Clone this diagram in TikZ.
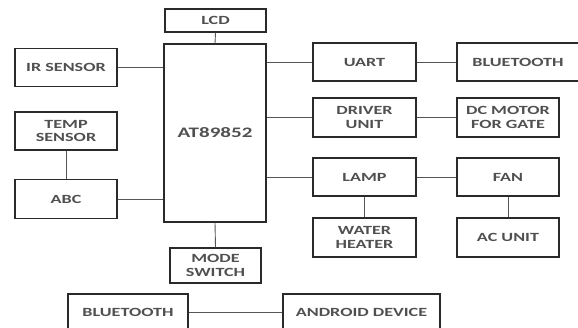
\documentclass[tikz,border=0pt]{standalone}
\usepackage{fontspec}
\setmainfont{Carlito}[FakeStretch=1.45]
\definecolor{txt}{HTML}{505050}
\definecolor{edge}{HTML}{2A2A2A}
\begin{document}
\begin{tikzpicture}[x=1pt,y=-1pt,
  blk/.style={draw=edge, line width=1.4pt, fill=white, inner sep=0pt, align=center,
    text=txt, font=\fontsize{12.5}{13.5}\selectfont\bfseries},
  wire/.style={draw=edge!80, line width=0.9pt}]
\useasboundingbox (0,0) rectangle (578,327);
\clip (0,0) rectangle (578,327);
\node[blk, minimum width=101pt, minimum height=23pt] (lcd) at (215.5,20.5) {LCD};
\node[blk, minimum width=102pt, minimum height=178pt, font=\fontsize{14.5}{16}\selectfont\bfseries] (mcu) at (215,133) {AT89852};
\node[blk, minimum width=102pt, minimum height=38pt] (ir) at (66,67.5) {IR SENSOR};
\node[blk, minimum width=102pt, minimum height=38pt] (temp) at (66,131) {TEMP\\SENSOR};
\node[blk, minimum width=102pt, minimum height=39pt] (abc) at (66,199) {ABC};
\node[blk, minimum width=91pt, minimum height=35pt] (mode) at (215.5,265.5) {MODE\\SWITCH};
\node[blk, minimum width=120pt, minimum height=36pt] (bt2) at (128,312) {BLUETOOTH};
\node[blk, minimum width=157pt, minimum height=36pt] (android) at (361.5,312) {ANDROID DEVICE};
\node[blk, minimum width=103pt, minimum height=38pt] (uart) at (364.5,62) {UART};
\node[blk, minimum width=122pt, minimum height=38pt] (bt1) at (518,62) {BLUETOOTH};
\node[blk, minimum width=103pt, minimum height=39pt] (driver) at (364.5,117.5) {DRIVER\\UNIT};
\node[blk, minimum width=102pt, minimum height=39pt] (dc) at (508,117.5) {DC MOTOR\\FOR GATE};
\node[blk, minimum width=103pt, minimum height=38pt] (lamp) at (364.5,177) {LAMP};
\node[blk, minimum width=102pt, minimum height=38pt] (fan) at (508,177) {FAN};
\node[blk, minimum width=103pt, minimum height=39pt] (heater) at (364.5,237.5) {WATER\\HEATER};
\node[blk, minimum width=102pt, minimum height=39pt] (ac) at (508,237.5) {AC UNIT};
% connectors
\draw[wire] (lcd.south) -- (mcu.north);
\draw[wire] (mode.north) -- (mcu.south);
\draw[wire] (ir.east) -- (ir.east -| mcu.west);
\draw[wire] (abc.east) -- (abc.east -| mcu.west);
\draw[wire] (temp.south) -- (abc.north);
\draw[wire] (uart.west -| mcu.east) -- (uart.west);
\draw[wire] (driver.west -| mcu.east) -- (driver.west);
\draw[wire] (lamp.west -| mcu.east) -- (lamp.west);
\draw[wire] (uart.east) -- (bt1.west);
\draw[wire] (driver.east) -- (dc.west);
\draw[wire] (lamp.east) -- (fan.west);
\draw[wire] (lamp.south) -- (heater.north);
\draw[wire] (fan.south) -- (ac.north);
\draw[wire] (bt2.east) -- (android.west);
\end{tikzpicture}
\end{document}
